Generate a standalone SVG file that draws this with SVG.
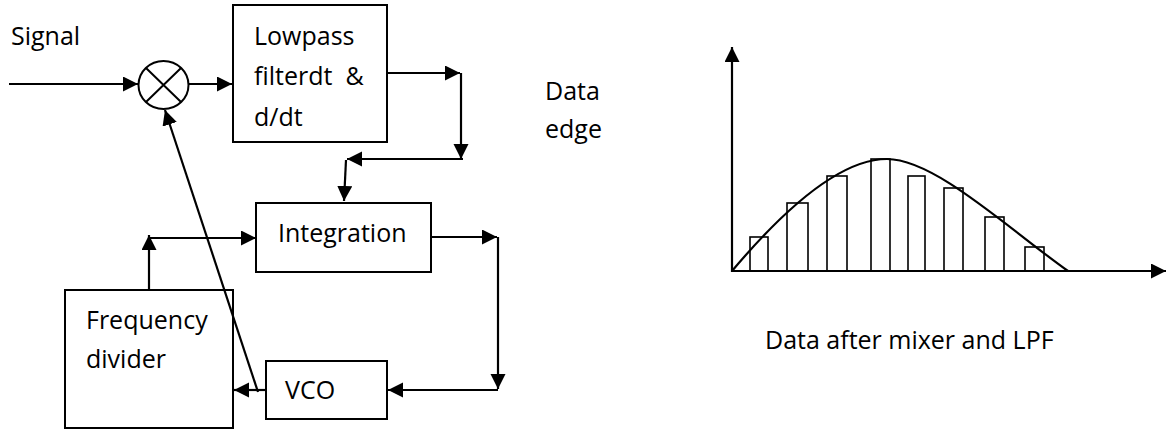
<svg xmlns="http://www.w3.org/2000/svg" width="1169" height="431" viewBox="0 0 1169 431">
<style>
  text { font-family: "Open Sans", "Liberation Sans", sans-serif; font-size: 25px; fill: #000; }
  .box { fill: #fff; stroke: #000; stroke-width: 2; }
  .wire { fill: none; stroke: #000; stroke-width: 2.2; }
  .bar { fill: #fff; stroke: #000; stroke-width: 1.6; }
</style>
<defs>
  <marker id="arr" markerUnits="userSpaceOnUse" markerWidth="17" markerHeight="16" refX="15" refY="7.5" orient="auto">
    <path d="M0,0 L15,7.5 L0,15 Z" fill="#000"/>
  </marker>
</defs>
<rect width="1169" height="431" fill="#fff"/>

<text x="11" y="45">Signal</text>

<g id="mixer">
  <ellipse cx="163.5" cy="85" rx="25" ry="24" fill="#fff" stroke="#000" stroke-width="2"/>
  <path d="M146,68 L181,102 M181,68 L146,102" stroke="#000" stroke-width="2"/>
</g>

<g id="lowpass">
  <rect class="box" x="233" y="5" width="154" height="137"/>
  <text x="254" y="45">Lowpass</text>
  <text x="254" y="85" xml:space="preserve">filterdt  &amp;</text>
  <text x="254" y="126">d/dt</text>
</g>

<g id="data-edge">
  <text x="545" y="100">Data</text>
  <text x="545" y="138">edge</text>
</g>

<g id="integration">
  <rect class="box" x="256" y="203" width="175" height="69"/>
  <text x="278" y="242">Integration</text>
</g>

<g id="freqdiv">
  <rect class="box" x="65" y="290" width="168" height="138"/>
  <text x="86" y="329">Frequency</text>
  <text x="86" y="368">divider</text>
</g>

<g id="vco">
  <rect class="box" x="266" y="361" width="121" height="58"/>
  <text x="285" y="399">VCO</text>
</g>

<g id="connectors">
  <path class="wire" d="M9,84 H138" marker-end="url(#arr)"/>
  <path class="wire" d="M189,84 H232" marker-end="url(#arr)"/>
  <path class="wire" d="M387,73 H460" marker-end="url(#arr)"/>
  <path class="wire" d="M461,73 V159" marker-end="url(#arr)"/>
  <path class="wire" d="M463,159 H347" marker-end="url(#arr)"/>
  <path class="wire" d="M346,160 L344,201" marker-end="url(#arr)"/>
  <path class="wire" d="M431,237 H497" marker-end="url(#arr)"/>
  <path class="wire" d="M498,237 V389" marker-end="url(#arr)"/>
  <path class="wire" d="M498,390 H388" marker-end="url(#arr)"/>
  <path class="wire" d="M266,390 H234" marker-end="url(#arr)"/>
  <path class="wire" d="M258,392 L165,110" marker-end="url(#arr)"/>
  <path class="wire" d="M149,290 V235" marker-end="url(#arr)"/>
  <path class="wire" d="M149,238 H256" marker-end="url(#arr)"/>
</g>

<g id="chart">
  <rect class="bar" x="750" y="237" width="18" height="34"/>
  <rect class="bar" x="787" y="203" width="21" height="68"/>
  <rect class="bar" x="827" y="176" width="20" height="95"/>
  <rect class="bar" x="871" y="159" width="19" height="112"/>
  <rect class="bar" x="908" y="176" width="17" height="95"/>
  <rect class="bar" x="944" y="188" width="19" height="83"/>
  <rect class="bar" x="985" y="217" width="19" height="54"/>
  <rect class="bar" x="1025" y="247" width="19" height="24"/>
  <path class="wire" d="M732,271 C775,220 835,159 887,159 C935,159 1010,230 1068,271"/>
  <path class="wire" d="M732,272 V47" marker-end="url(#arr)"/>
  <path class="wire" d="M731,271 H1166" marker-end="url(#arr)"/>
  <text x="765" y="349">Data after mixer and LPF</text>
</g>
</svg>
